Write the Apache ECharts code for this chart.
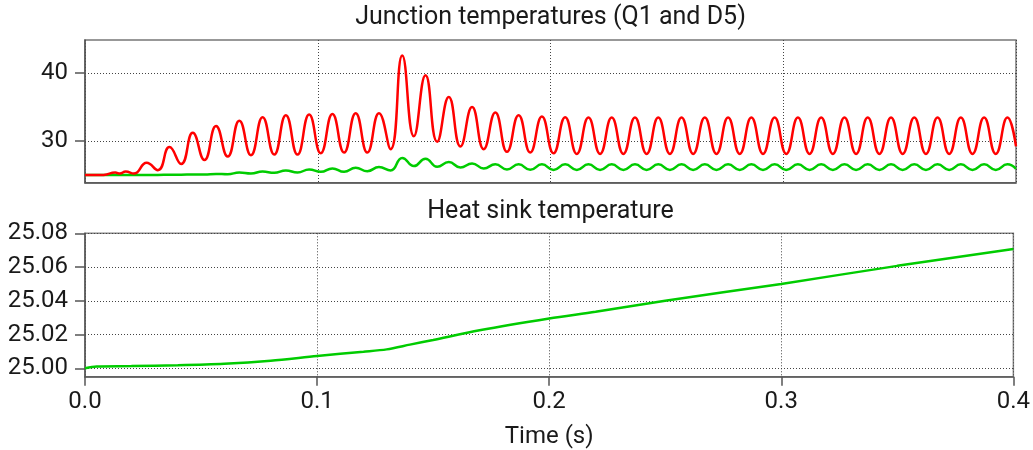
<!DOCTYPE html>
<html>
<head>
<meta charset="utf-8">
<script src="https://cdn.jsdelivr.net/npm/echarts@6/dist/echarts.min.js"></script>
<style>
  html, body { margin: 0; padding: 0; background: #fff; }
  #chart { width: 1033px; height: 450px; }
</style>
</head>
<body>
<div id="chart"></div>
<script>
// junction temperatures: sample times (s), read at each peak / trough
const jTime = [
  0, 0.008, 0.013, 0.015, 0.0175, 0.021, 0.0265,
  0.0313, 0.0363, 0.0413, 0.0463, 0.0513, 0.0563, 0.0613, 0.0663, 0.0713, 0.0763,
  0.0813, 0.0863, 0.0913, 0.0963, 0.1013, 0.1063, 0.1113, 0.1163, 0.1213, 0.1263,
  0.1313, 0.1363, 0.1413, 0.1463, 0.1513, 0.1563, 0.1613, 0.1663, 0.1713, 0.1763,
  0.1813, 0.1863, 0.1913, 0.1963, 0.2013, 0.2063, 0.2113, 0.2163, 0.2213, 0.2263,
  0.2313, 0.2363, 0.2413, 0.2463, 0.2513, 0.2563, 0.2613, 0.2663, 0.2713, 0.2763,
  0.2813, 0.2863, 0.2913, 0.2963, 0.3013, 0.3063, 0.3113, 0.3163, 0.3213, 0.3263,
  0.3313, 0.3363, 0.3413, 0.3463, 0.3513, 0.3563, 0.3613, 0.3663, 0.3713, 0.3763,
  0.3813, 0.3863, 0.3913, 0.3963, 0.4
]
// Q1 junction temperature (red)
const q1Temp = [
  25.0, 25.0, 25.35, 25.2, 25.5, 25.2, 26.8,
  25.7, 29.1, 26.6, 31.2, 27.2, 32.2, 27.7, 33.0, 27.9, 33.5,
  28.0, 33.8, 28.0, 33.9, 28.2, 34.0, 28.3, 34.1, 28.3, 34.1,
  28.8, 42.6, 30.7, 39.7, 29.9, 36.5, 29.2, 35.0, 28.8, 34.2,
  28.4, 33.8, 28.3, 33.6, 28.2, 33.5, 28.1, 33.45, 28.1, 33.45,
  28.1, 33.45, 28.1, 33.45, 28.1, 33.45, 28.1, 33.45, 28.1, 33.45,
  28.1, 33.45, 28.1, 33.45, 28.1, 33.45, 28.1, 33.45, 28.1, 33.45,
  28.1, 33.45, 28.1, 33.45, 28.1, 33.45, 28.1, 33.45, 28.1, 33.45,
  28.1, 33.45, 28.1, 33.45, 29.2
]
// D5 junction temperature (green)
const d5Temp = [
  25.0, 25.0, 25.0, 25.0, 25.0, 25.0, 25.0,
  25.0, 25.03, 25.03, 25.07, 25.06, 25.15, 25.1, 25.35, 25.2, 25.5,
  25.3, 25.65, 25.35, 25.8, 25.45, 25.95, 25.45, 26.05, 25.55, 26.15,
  25.65, 27.5, 26.3, 27.4, 26.2, 26.9, 26.1, 26.7, 25.95, 26.56,
  25.8, 26.56, 25.75, 26.56, 25.72, 26.56, 25.72, 26.56, 25.72, 26.56,
  25.72, 26.56, 25.72, 26.56, 25.72, 26.56, 25.72, 26.56, 25.72, 26.56,
  25.72, 26.56, 25.72, 26.56, 25.72, 26.56, 25.72, 26.56, 25.72, 26.56,
  25.72, 26.56, 25.72, 26.56, 25.72, 26.56, 25.72, 26.56, 25.72, 26.56,
  25.72, 26.56, 25.72, 26.56, 25.9
]
// heat sink temperature
const sinkTime = [0, 0.005, 0.02, 0.04, 0.06, 0.08, 0.1, 0.12, 0.13, 0.14, 0.15, 0.17, 0.2, 0.22, 0.25, 0.3, 0.35, 0.4]
const sinkTemp = [25.0, 25.0011, 25.0013, 25.0018, 25.0027, 25.0045, 25.0073, 25.0098, 25.0112, 25.014,
  25.0168, 25.0225, 25.0295, 25.0335, 25.04, 25.05, 25.0607, 25.0707]

const topTicks = [30, 40]
const sinkTicks = [25.0, 25.02, 25.04, 25.06, 25.08]

const pairs = (xs, ys) => xs.map((x, i) => [x, ys[i]])

const FONT = 'Roboto'
const TXT = '#1a1a1a'
const axisLineStyle = { color: '#555', width: 1.5 }
const gridLine = { show: true, lineStyle: { color: '#444', width: 1, type: [1, 2] } }

const chart = echarts.init(document.getElementById('chart'))

const option = {
  animation: false,
  backgroundColor: '#fff',
  textStyle: { fontFamily: FONT },
  title: [
    {
      text: 'Junction temperatures (Q1 and D5)',
      left: 550.5, top: 5, textAlign: 'center', padding: 0,
      textStyle: { fontFamily: FONT, fontSize: 25, fontWeight: 'normal', color: TXT }
    },
    {
      text: 'Heat sink temperature',
      left: 550.5, top: 199, textAlign: 'center', padding: 0,
      textStyle: { fontFamily: FONT, fontSize: 25, fontWeight: 'normal', color: TXT }
    }
  ],
  grid: [
    { left: 85, right: 17, top: 40, height: 142.7, show: true, borderColor: '#777', borderWidth: 1.5 },
    { left: 85, right: 17, top: 233.3, height: 143.4, show: true, borderColor: '#888', borderWidth: 1.5 }
  ],
  xAxis: [
    {
      type: 'value', gridIndex: 0, min: 0, max: 0.4, interval: 0.1,
      axisLine: { show: true, lineStyle: axisLineStyle },
      axisTick: { show: false },
      axisLabel: { show: false },
      splitLine: gridLine
    },
    {
      type: 'value', gridIndex: 1, min: 0, max: 0.4, interval: 0.1,
      name: 'Time (s)', nameLocation: 'middle', nameGap: 48,
      nameTextStyle: { fontFamily: FONT, fontSize: 24, color: TXT },
      axisLine: { show: true, onZero: false, lineStyle: axisLineStyle },
      axisTick: { show: true, length: 9, lineStyle: { color: '#555', width: 1.5 } },
      axisLabel: { margin: 13, fontSize: 24, color: TXT, fontFamily: FONT, formatter: v => v.toFixed(1) },
      splitLine: gridLine
    }
  ],
  yAxis: [
    {
      type: 'value', gridIndex: 0, min: 23.85, max: 44.9,
      axisLine: { show: true, lineStyle: axisLineStyle },
      axisTick: { show: true, length: 10, customValues: topTicks, lineStyle: { color: '#555', width: 1.5 } },
      axisLabel: { customValues: topTicks, margin: 17, fontSize: 24, color: TXT, fontFamily: FONT },
      splitLine: gridLine
    },
    {
      type: 'value', gridIndex: 1, min: 24.995, max: 25.08,
      axisLine: { show: true, lineStyle: axisLineStyle },
      axisTick: { show: true, length: 10, customValues: sinkTicks, lineStyle: { color: '#555', width: 1.5 } },
      axisLabel: { customValues: sinkTicks, margin: 17, fontSize: 24, color: TXT, fontFamily: FONT, formatter: v => v.toFixed(2) },
      splitLine: gridLine
    }
  ],
  series: [
    {
      name: 'D5', type: 'line', xAxisIndex: 0, yAxisIndex: 0,
      data: pairs(jTime, d5Temp), smooth: 0.5, showSymbol: false,
      lineStyle: { color: '#00cc00', width: 2.5 }
    },
    {
      name: 'Q1', type: 'line', xAxisIndex: 0, yAxisIndex: 0,
      data: pairs(jTime, q1Temp), smooth: 0.5, showSymbol: false,
      lineStyle: { color: '#ff0000', width: 2.5 }
    },
    {
      name: 'Heat sink', type: 'line', xAxisIndex: 1, yAxisIndex: 1,
      data: pairs(sinkTime, sinkTemp), smooth: 0.3, showSymbol: false,
      lineStyle: { color: '#00cc00', width: 2.5 }
    }
  ]
}

chart.setOption(option)
</script>
</body>
</html>
